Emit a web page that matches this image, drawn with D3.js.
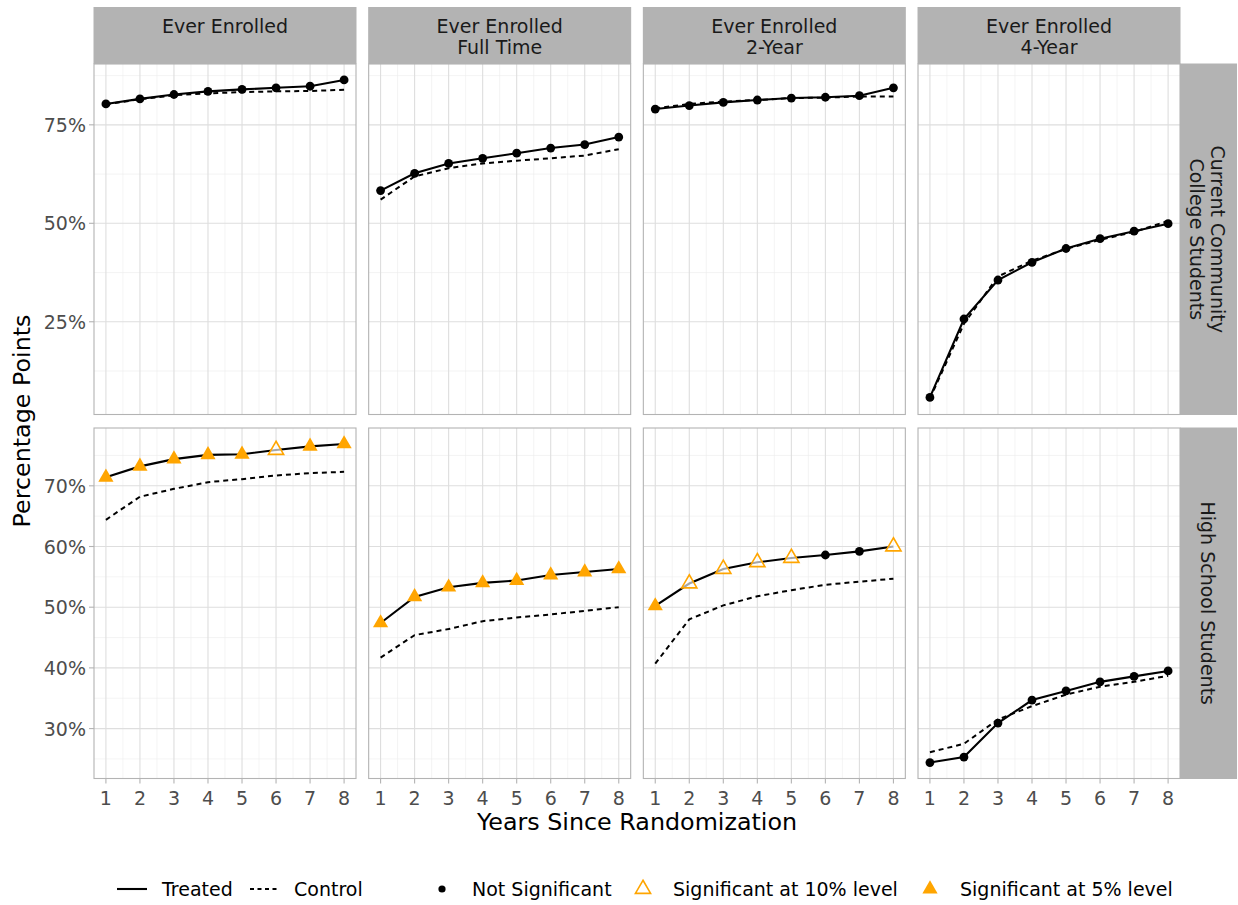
<!DOCTYPE html>
<html><head><meta charset="utf-8">
<script src="https://cdn.jsdelivr.net/npm/d3@7"></script>
<style>body{margin:0;background:#fff}text{font-family:"DejaVu Sans",sans-serif}</style>
</head><body><svg id="chart" width="1238" height="905"></svg>
<script>
// ---------- data ----------
const years = [1, 2, 3, 4, 5, 6, 7, 8];
const outcomes = ["Ever Enrolled", "Ever Enrolled\nFull Time", "Ever Enrolled\n2-Year", "Ever Enrolled\n4-Year"];
const samples = ["Current Community\nCollege Students", "High School Students"];

// Current community college students (percent)
const ccTreated = [
  [80.3, 81.6, 82.7, 83.5, 84.0, 84.4, 84.8, 86.4],
  [58.3, 62.7, 65.2, 66.5, 67.8, 69.1, 70.0, 71.9],
  [79.0, 79.9, 80.7, 81.3, 81.8, 82.0, 82.4, 84.4],
  [5.8, 25.7, 35.6, 40.1, 43.6, 46.1, 48.0, 49.9]
];
const ccControl = [
  [80.2, 81.5, 82.5, 83.0, 83.3, 83.5, 83.6, 83.9],
  [56.0, 61.9, 64.0, 65.2, 65.9, 66.5, 67.2, 68.8],
  [79.2, 80.3, 80.9, 81.3, 81.8, 81.9, 82.2, 82.2],
  [5.5, 24.5, 36.5, 40.5, 43.5, 45.8, 47.8, 50.6]
];
const ccSig = [
  ["ns","ns","ns","ns","ns","ns","ns","ns"],
  ["ns","ns","ns","ns","ns","ns","ns","ns"],
  ["ns","ns","ns","ns","ns","ns","ns","ns"],
  ["ns","ns","ns","ns","ns","ns","ns","ns"]
];
// High school students (percent)
const hsTreated = [
  [71.4, 73.2, 74.4, 75.1, 75.2, 75.9, 76.5, 76.9],
  [47.4, 51.7, 53.3, 54.0, 54.4, 55.3, 55.8, 56.3],
  [50.2, 53.9, 56.3, 57.4, 58.1, 58.6, 59.2, 60.0],
  [24.4, 25.3, 30.9, 34.7, 36.2, 37.7, 38.6, 39.5]
];
const hsControl = [
  [64.4, 68.2, 69.5, 70.6, 71.1, 71.7, 72.1, 72.3],
  [41.7, 45.4, 46.4, 47.7, 48.3, 48.8, 49.4, 50.0],
  [40.7, 48.0, 50.3, 51.8, 52.8, 53.7, 54.2, 54.7],
  [26.1, 27.5, 31.5, 33.7, 35.6, 36.9, 37.7, 38.7]
];
const hsSig = [
  ["p05","p05","p05","p05","p05","p10","p05","p05"],
  ["p05","p05","p05","p05","p05","p05","p05","p05"],
  ["p05","p10","p10","p10","p10","ns","ns","p10"],
  ["ns","ns","ns","ns","ns","ns","ns","ns"]
];
const rowMajorTicks = [[25, 50, 75], [30, 40, 50, 60, 70]];
const lineLegend = ["Treated", "Control"];
const sigLegend = ["Not Significant", "Significant at 10% level", "Significant at 5% level"];

// ---------- layout ----------
const svg = d3.select("#chart");
const panelLeft = 94, panelW = 262, colStep = 274.67;
const rowTop = [64, 428], panelH = 350.5;
const stripTop = 7, stripRightW = 57;
const ORANGE = "#FFA500";
const GRID = "#dedede", GRIDMINOR = "#ececec", BORDER = "#b3b3b3";
const FS = 19, FT = 23.8;

const treatedRows = [ccTreated, hsTreated];
const controlRows = [ccControl, hsControl];
const sigRows = [ccSig, hsSig];

const xScale = (c) => {
  const ext = d3.extent(years), pad = (ext[1] - ext[0]) * 0.05;
  const x0 = panelLeft + c * colStep;
  return d3.scaleLinear().domain([ext[0] - pad, ext[1] + pad]).range([x0, x0 + panelW]);
};
const yScale = (r) => {
  const all = treatedRows[r].flat().concat(controlRows[r].flat());
  const ext = d3.extent(all), pad = (ext[1] - ext[0]) * 0.05;
  return d3.scaleLinear().domain([ext[0] - pad, ext[1] + pad]).range([rowTop[r] + panelH, rowTop[r]]);
};

const triSym = d3.symbol().type(d3.symbolTriangle).size(100);

for (let r = 0; r < 2; r++) {
  const y = yScale(r);
  const majors = rowMajorTicks[r];
  const step = majors[1] - majors[0];
  const minors = [];
  for (let v = majors[0] - step / 2; v <= y.domain()[1]; v += step) {
    if (v >= y.domain()[0]) minors.push(v);
  }
  for (let c = 0; c < 4; c++) {
    const x = xScale(c);
    const g = svg.append("g");
    const [xa, xb] = x.range(), [yb, ya] = y.range();
    g.append("rect").attr("x", xa).attr("y", ya).attr("width", xb - xa).attr("height", yb - ya).attr("fill", "#fff");
    // minor grid
    const xMinors = d3.range(years[0] - 0.5, years[years.length - 1] + 1, 1).filter(v => v >= x.domain()[0] && v <= x.domain()[1]);
    g.selectAll(".xm").data(xMinors).join("line")
      .attr("x1", d => x(d)).attr("x2", d => x(d)).attr("y1", ya).attr("y2", yb)
      .attr("stroke", GRIDMINOR).attr("stroke-width", 0.6);
    g.selectAll(".ym").data(minors).join("line")
      .attr("x1", xa).attr("x2", xb).attr("y1", d => y(d)).attr("y2", d => y(d))
      .attr("stroke", GRIDMINOR).attr("stroke-width", 0.6);
    // major grid
    g.selectAll(".xM").data(years).join("line")
      .attr("x1", d => x(d)).attr("x2", d => x(d)).attr("y1", ya).attr("y2", yb)
      .attr("stroke", GRID).attr("stroke-width", 1.1);
    g.selectAll(".yM").data(majors).join("line")
      .attr("x1", xa).attr("x2", xb).attr("y1", d => y(d)).attr("y2", d => y(d))
      .attr("stroke", GRID).attr("stroke-width", 1.1);

    const tVals = treatedRows[r][c], cVals = controlRows[r][c], sVals = sigRows[r][c];
    const line = d3.line().x((d, i) => x(years[i])).y(d => y(d));
    g.append("path").attr("d", line(cVals)).attr("fill", "none").attr("stroke", "#000")
      .attr("stroke-width", 2).attr("stroke-dasharray", "5,4");
    g.append("path").attr("d", line(tVals)).attr("fill", "none").attr("stroke", "#000")
      .attr("stroke-width", 2.1);
    // points
    tVals.forEach((v, i) => {
      const px = x(years[i]), py = y(v), s = sVals[i];
      if (s === "ns") {
        g.append("circle").attr("cx", px).attr("cy", py).attr("r", 4.4).attr("fill", "#000");
      } else if (s === "p05") {
        g.append("path").attr("d", triSym()).attr("transform", `translate(${px},${py})`).attr("fill", ORANGE);
      } else {
        g.append("path").attr("d", triSym()).attr("transform", `translate(${px},${py})`)
          .attr("fill", "#fff").attr("fill-opacity", 0.65).attr("stroke", ORANGE).attr("stroke-width", 1.6);
      }
    });
    // border
    g.append("rect").attr("x", xa).attr("y", ya).attr("width", xb - xa).attr("height", yb - ya)
      .attr("fill", "none").attr("stroke", BORDER).attr("stroke-width", 1.1);

    // top strips
    if (r === 0) {
      g.append("rect").attr("x", xa - 0.5).attr("y", stripTop).attr("width", xb - xa + 1).attr("height", ya - stripTop)
        .attr("fill", BORDER);
      const lines = outcomes[c].split("\n");
      lines.forEach((t, k) => {
        g.append("text").attr("x", (xa + xb) / 2).attr("y", 26 + k * 21)
          .attr("text-anchor", "middle").attr("dominant-baseline", "central")
          .attr("font-size", FS).attr("fill", "#1a1a1a").text(t);
      });
    }
    // x axis
    if (r === 1) {
      years.forEach(v => {
        g.append("line").attr("x1", x(v)).attr("x2", x(v)).attr("y1", yb).attr("y2", yb + 5)
          .attr("stroke", BORDER).attr("stroke-width", 1.1);
        g.append("text").attr("x", x(v)).attr("y", yb + 19).attr("text-anchor", "middle")
          .attr("dominant-baseline", "central").attr("font-size", FS).attr("fill", "#4d4d4d").text(v);
      });
    }
    // y axis
    if (c === 0) {
      majors.forEach(v => {
        g.append("line").attr("x1", xa - 5).attr("x2", xa).attr("y1", y(v)).attr("y2", y(v))
          .attr("stroke", BORDER).attr("stroke-width", 1.1);
        g.append("text").attr("x", xa - 8).attr("y", y(v)).attr("text-anchor", "end")
          .attr("dominant-baseline", "central").attr("font-size", FS).attr("fill", "#4d4d4d").text(v + "%");
      });
    }
  }
  // right strip
  const sx = panelLeft + 3 * colStep + panelW;
  const [yb, ya] = y.range();
  svg.append("rect").attr("x", sx).attr("y", ya - 0.5).attr("width", stripRightW).attr("height", yb - ya + 1).attr("fill", BORDER);
  const lines = samples[r].split("\n");
  const cx = sx + stripRightW / 2 - 1, cy = (ya + yb) / 2;
  lines.forEach((t, k) => {
    const off = (lines.length - 1) * 10.5 - k * 21;
    svg.append("text").attr("transform", `translate(${cx + off},${cy}) rotate(90)`)
      .attr("text-anchor", "middle").attr("dominant-baseline", "central")
      .attr("font-size", FS).attr("fill", "#1a1a1a").text(t);
  });
}

// axis titles
svg.append("text").attr("x", 637).attr("y", 822).attr("text-anchor", "middle").attr("dominant-baseline", "central")
  .attr("font-size", FT).attr("fill", "#000").text("Years Since Randomization");
svg.append("text").attr("transform", "translate(22,421) rotate(-90)").attr("text-anchor", "middle")
  .attr("dominant-baseline", "central").attr("font-size", FT).attr("fill", "#000").text("Percentage Points");

// legend
const ly = 889;
const lg = svg.append("g");
lg.append("line").attr("x1", 117).attr("x2", 147).attr("y1", ly).attr("y2", ly).attr("stroke", "#000").attr("stroke-width", 2.1);
lg.append("text").attr("x", 162).attr("y", ly).attr("dominant-baseline", "central").attr("font-size", FS).text(lineLegend[0]);
lg.append("line").attr("x1", 250).attr("x2", 280).attr("y1", ly).attr("y2", ly).attr("stroke", "#000").attr("stroke-width", 2).attr("stroke-dasharray", "4,3.5");
lg.append("text").attr("x", 294).attr("y", ly).attr("dominant-baseline", "central").attr("font-size", FS).text(lineLegend[1]);
lg.append("circle").attr("cx", 442).attr("cy", ly).attr("r", 3.6).attr("fill", "#000");
lg.append("text").attr("x", 472).attr("y", ly).attr("dominant-baseline", "central").attr("font-size", FS).text(sigLegend[0]);
lg.append("path").attr("d", triSym()).attr("transform", `translate(643,${ly})`).attr("fill", "#fff").attr("stroke", ORANGE).attr("stroke-width", 1.6);
lg.append("text").attr("x", 673).attr("y", ly).attr("dominant-baseline", "central").attr("font-size", FS).text(sigLegend[1]);
lg.append("path").attr("d", triSym()).attr("transform", `translate(930,${ly})`).attr("fill", ORANGE);
lg.append("text").attr("x", 960).attr("y", ly).attr("dominant-baseline", "central").attr("font-size", FS).text(sigLegend[2]);
</script>
</body></html>
